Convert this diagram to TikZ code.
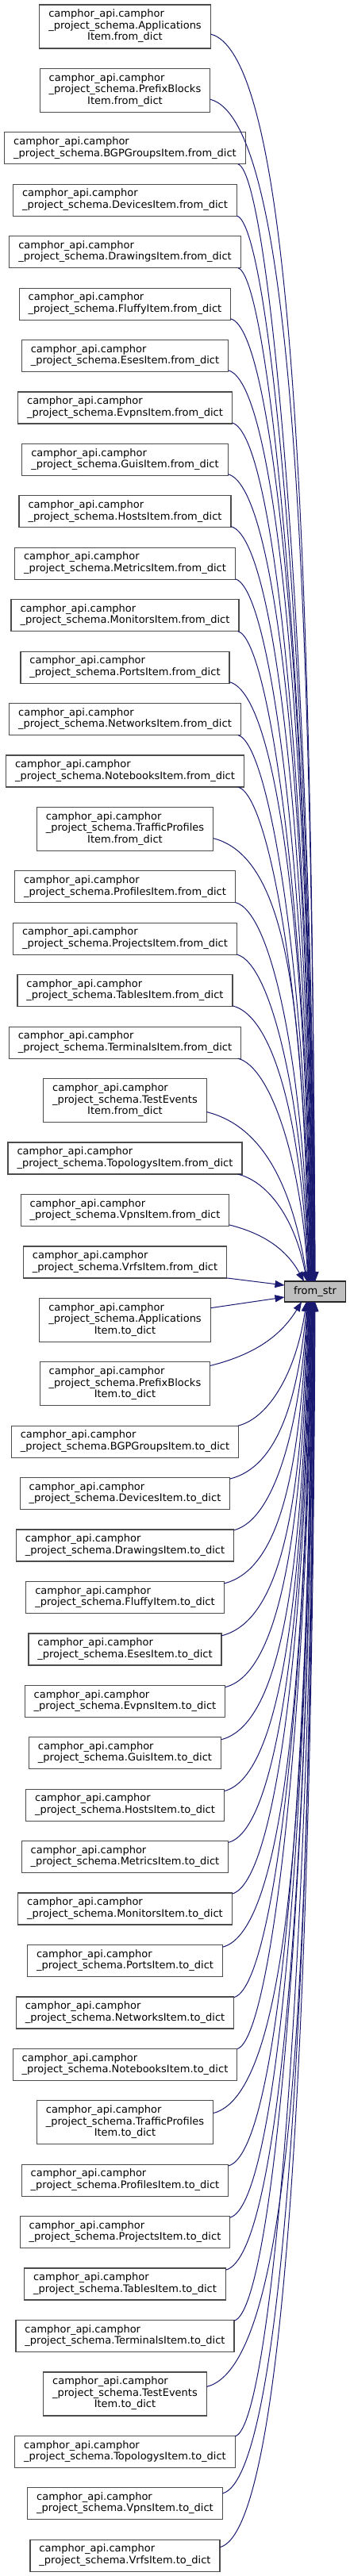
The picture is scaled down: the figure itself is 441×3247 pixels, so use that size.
\documentclass[tikz,border=0pt]{standalone}
\usepackage{fontspec}
\setmainfont{DejaVu Sans}
\usepackage{xcolor}
\usepackage{tikz}
\usetikzlibrary{positioning}
\usetikzlibrary{calc}
\usetikzlibrary{arrows.meta}
\definecolor{edgeblue}{HTML}{191970}
\definecolor{calleefill}{HTML}{BFBFBF}
\newcommand{\twolbl}[1]{\begin{tabular}{@{}l@{}}camphor\_api.camphor\\\_project\_schema.#1\end{tabular}}
\newcommand{\threelbl}[2]{\begin{tabular}{@{}l@{}}camphor\_api.camphor\\\_project\_schema.#1\\\multicolumn{1}{@{}c@{}}{#2}\end{tabular}}

\begin{document}
\begin{tikzpicture}[x = 1pt, y = 1pt, node distance = 25.43pt,
  caller/.style = {draw = black!70, line width = 1.2pt, fill = white, inner xsep = 11.5pt, inner ysep = 0pt, outer sep = 0pt, minimum height = 40pt, font = \fontsize{13}{14.5}\selectfont},
  tall/.style = {minimum height = 55pt},
  callee/.style = {caller, draw = black!85, fill = calleefill, minimum height = 26pt},
  call/.style = {draw = edgeblue, line width = 1pt, -{Triangle[length = 12pt, width = 9pt]}},
  % curve out of a caller above from_str
  callup/.style = {call, to path = {let \p1 = (\tikztostart), \p2 = (\tikztotarget),
      \n1 = {min(max(24, 2*(320-\x1)), 0.4*(\x2-\x1)+0.1*(\y1-\y2))} in
    .. controls ($(\p1)+(\n1, -0.25*\n1)$)
    and ($(\p2)+({-0.4*(\x2-\x1)/((\x2-\x1)+(\y1-\y2))*(\x2-\x1)}, {0.55*(\y1-\y2)})$) .. (\p2)}},
  % curve out of a caller below from_str
  calldn/.style = {call, to path = {let \p1 = (\tikztostart), \p2 = (\tikztotarget),
      \n1 = {min(max(24, 2*(320-\x1)), 0.4*(\x2-\x1)+0.1*(\y2-\y1))} in
    .. controls ($(\p1)+(\n1, 0.25*\n1)$)
    and ($(\p2)+({-0.4*(\x2-\x1)/((\x2-\x1)+(\y2-\y1))*(\x2-\x1)}, {-0.55*(\y2-\y1)})$) .. (\p2)}}]
  \useasboundingbox[fill = white] (0, 0) rectangle (441, -3247);

  % callers: from_dict
  \node[caller, tall] (fdApp) at (157.5, -33.5) {\threelbl{Applications}{Item.from\_dict}};
  \node[caller, tall, below = of fdApp] (fdPre) {\threelbl{PrefixBlocks}{Item.from\_dict}};
  \node[caller, below = of fdPre] (fdBgp) {\twolbl{BGPGroupsItem.from\_dict}};
  \node[caller, below = of fdBgp] (fdDev) {\twolbl{DevicesItem.from\_dict}};
  \node[caller, below = of fdDev] (fdDraw) {\twolbl{DrawingsItem.from\_dict}};
  \node[caller, below = of fdDraw] (fdFluffy) {\twolbl{FluffyItem.from\_dict}};
  \node[caller, below = of fdFluffy] (fdEses) {\twolbl{EsesItem.from\_dict}};
  \node[caller, below = of fdEses] (fdEvpns) {\twolbl{EvpnsItem.from\_dict}};
  \node[caller, below = of fdEvpns] (fdGuis) {\twolbl{GuisItem.from\_dict}};
  \node[caller, below = of fdGuis] (fdHosts) {\twolbl{HostsItem.from\_dict}};
  \node[caller, below = of fdHosts] (fdMetrics) {\twolbl{MetricsItem.from\_dict}};
  \node[caller, below = of fdMetrics] (fdMonitors) {\twolbl{MonitorsItem.from\_dict}};
  \node[caller, below = of fdMonitors] (fdPorts) {\twolbl{PortsItem.from\_dict}};
  \node[caller, below = of fdPorts] (fdNetworks) {\twolbl{NetworksItem.from\_dict}};
  \node[caller, below = of fdNetworks] (fdNotebooks) {\twolbl{NotebooksItem.from\_dict}};
  \node[caller, tall, below = of fdNotebooks] (fdTraffic) {\threelbl{TrafficProfiles}{Item.from\_dict}};
  \node[caller, below = of fdTraffic] (fdProfiles) {\twolbl{ProfilesItem.from\_dict}};
  \node[caller, below = of fdProfiles] (fdProjects) {\twolbl{ProjectsItem.from\_dict}};
  \node[caller, below = of fdProjects] (fdTables) {\twolbl{TablesItem.from\_dict}};
  \node[caller, below = of fdTables] (fdTerminals) {\twolbl{TerminalsItem.from\_dict}};
  \node[caller, tall, below = of fdTerminals] (fdTest) {\threelbl{TestEvents}{Item.from\_dict}};
  \node[caller, below = of fdTest] (fdTopo) {\twolbl{TopologysItem.from\_dict}};
  \node[caller, below = of fdTopo] (fdVpns) {\twolbl{VpnsItem.from\_dict}};
  \node[caller, below = of fdVpns] (fdVrfs) {\twolbl{VrfsItem.from\_dict}};

  % callers: to_dict
  \node[caller, tall, below = of fdVrfs] (tdApp) {\threelbl{Applications}{Item.to\_dict}};
  \node[caller, tall, below = of tdApp] (tdPre) {\threelbl{PrefixBlocks}{Item.to\_dict}};
  \node[caller, below = of tdPre] (tdBgp) {\twolbl{BGPGroupsItem.to\_dict}};
  \node[caller, below = of tdBgp] (tdDev) {\twolbl{DevicesItem.to\_dict}};
  \node[caller, below = of tdDev] (tdDraw) {\twolbl{DrawingsItem.to\_dict}};
  \node[caller, below = of tdDraw] (tdFluffy) {\twolbl{FluffyItem.to\_dict}};
  \node[caller, below = of tdFluffy] (tdEses) {\twolbl{EsesItem.to\_dict}};
  \node[caller, below = of tdEses] (tdEvpns) {\twolbl{EvpnsItem.to\_dict}};
  \node[caller, below = of tdEvpns] (tdGuis) {\twolbl{GuisItem.to\_dict}};
  \node[caller, below = of tdGuis] (tdHosts) {\twolbl{HostsItem.to\_dict}};
  \node[caller, below = of tdHosts] (tdMetrics) {\twolbl{MetricsItem.to\_dict}};
  \node[caller, below = of tdMetrics] (tdMonitors) {\twolbl{MonitorsItem.to\_dict}};
  \node[caller, below = of tdMonitors] (tdPorts) {\twolbl{PortsItem.to\_dict}};
  \node[caller, below = of tdPorts] (tdNetworks) {\twolbl{NetworksItem.to\_dict}};
  \node[caller, below = of tdNetworks] (tdNotebooks) {\twolbl{NotebooksItem.to\_dict}};
  \node[caller, tall, below = of tdNotebooks] (tdTraffic) {\threelbl{TrafficProfiles}{Item.to\_dict}};
  \node[caller, below = of tdTraffic] (tdProfiles) {\twolbl{ProfilesItem.to\_dict}};
  \node[caller, below = of tdProfiles] (tdProjects) {\twolbl{ProjectsItem.to\_dict}};
  \node[caller, below = of tdProjects] (tdTables) {\twolbl{TablesItem.to\_dict}};
  \node[caller, below = of tdTables] (tdTerminals) {\twolbl{TerminalsItem.to\_dict}};
  \node[caller, tall, below = of tdTerminals] (tdTest) {\threelbl{TestEvents}{Item.to\_dict}};
  \node[caller, below = of tdTest] (tdTopo) {\twolbl{TopologysItem.to\_dict}};
  \node[caller, below = of tdTopo] (tdVpns) {\twolbl{VpnsItem.to\_dict}};
  \node[caller, below = of tdVpns] (tdVrfs) {\twolbl{VrfsItem.to\_dict}};

  % callee
  \node[callee] (fromstr) at (397, -1628) {from\_str};

  % calls from above
  \draw[callup] (fdApp.-5) to ([xshift = 0pt]fromstr.north);
  \draw[callup] (fdPre.-6) to ([xshift = 0pt]fromstr.north);
  \draw[callup] (fdBgp.-8) to ([xshift = -0.5pt]fromstr.north);
  \draw[callup] (fdDev.-8) to ([xshift = -1pt]fromstr.north);
  \draw[callup] (fdDraw.-8) to ([xshift = -1.5pt]fromstr.north);
  \draw[callup] (fdFluffy.-8) to ([xshift = -2pt]fromstr.north);
  \draw[callup] (fdEses.-8) to ([xshift = -2.5pt]fromstr.north);
  \draw[callup] (fdEvpns.-8) to ([xshift = -3pt]fromstr.north);
  \draw[callup] (fdGuis.-8) to ([xshift = -3.5pt]fromstr.north);
  \draw[callup] (fdHosts.-8) to ([xshift = -4pt]fromstr.north);
  \draw[callup] (fdMetrics.-8) to ([xshift = -4.5pt]fromstr.north);
  \draw[callup] (fdMonitors.-8) to ([xshift = -5pt]fromstr.north);
  \draw[callup] (fdPorts.-8) to ([xshift = -5.5pt]fromstr.north);
  \draw[callup] (fdNetworks.-8) to ([xshift = -6pt]fromstr.north);
  \draw[callup] (fdNotebooks.-8) to ([xshift = -6.5pt]fromstr.north);
  \draw[callup] (fdTraffic.-6) to ([xshift = -7pt]fromstr.north);
  \draw[callup] (fdProfiles.-8) to ([xshift = -7.5pt]fromstr.north);
  \draw[callup] (fdProjects.-8) to ([xshift = -8pt]fromstr.north);
  \draw[callup] (fdTables.-8) to ([xshift = -8.5pt]fromstr.north);
  \draw[callup] (fdTerminals.-8) to ([xshift = -9pt]fromstr.north);
  \draw[callup] (fdTest.-8) to ([xshift = -9.5pt]fromstr.north);
  \draw[callup] (fdTopo.-8) to ([xshift = -10.5pt]fromstr.north);
  \draw[callup] (fdVpns.-8) to ([xshift = -14pt]fromstr.north);
  \draw[call] (fdVrfs.south east) -- ([yshift = 8pt]fromstr.west);

  % calls from below
  \draw[call] (tdApp.8) -- ([yshift = -7pt]fromstr.west);
  \draw[calldn] (tdPre.12) to ([xshift = -17pt]fromstr.south);
  \draw[calldn] (tdBgp.8) to ([xshift = -11pt]fromstr.south);
  \draw[calldn] (tdDev.8) to ([xshift = -10pt]fromstr.south);
  \draw[calldn] (tdDraw.8) to ([xshift = -9.5pt]fromstr.south);
  \draw[calldn] (tdFluffy.8) to ([xshift = -9pt]fromstr.south);
  \draw[calldn] (tdEses.8) to ([xshift = -8.5pt]fromstr.south);
  \draw[calldn] (tdEvpns.8) to ([xshift = -8pt]fromstr.south);
  \draw[calldn] (tdGuis.8) to ([xshift = -7.5pt]fromstr.south);
  \draw[calldn] (tdHosts.8) to ([xshift = -7pt]fromstr.south);
  \draw[calldn] (tdMetrics.8) to ([xshift = -6.5pt]fromstr.south);
  \draw[calldn] (tdMonitors.8) to ([xshift = -6pt]fromstr.south);
  \draw[calldn] (tdPorts.8) to ([xshift = -5.5pt]fromstr.south);
  \draw[calldn] (tdNetworks.8) to ([xshift = -5pt]fromstr.south);
  \draw[calldn] (tdNotebooks.8) to ([xshift = -4.5pt]fromstr.south);
  \draw[calldn] (tdTraffic.6) to ([xshift = -4pt]fromstr.south);
  \draw[calldn] (tdProfiles.8) to ([xshift = -3.5pt]fromstr.south);
  \draw[calldn] (tdProjects.8) to ([xshift = -3pt]fromstr.south);
  \draw[calldn] (tdTables.8) to ([xshift = -2.5pt]fromstr.south);
  \draw[calldn] (tdTerminals.8) to ([xshift = -2pt]fromstr.south);
  \draw[calldn] (tdTest.5) to ([xshift = -1.5pt]fromstr.south);
  \draw[calldn] (tdTopo.8) to ([xshift = -1pt]fromstr.south);
  \draw[calldn] (tdVpns.6) to ([xshift = -0.5pt]fromstr.south);
  \draw[calldn] (tdVrfs.5) to ([xshift = 0pt]fromstr.south);
\end{tikzpicture}
\end{document}
